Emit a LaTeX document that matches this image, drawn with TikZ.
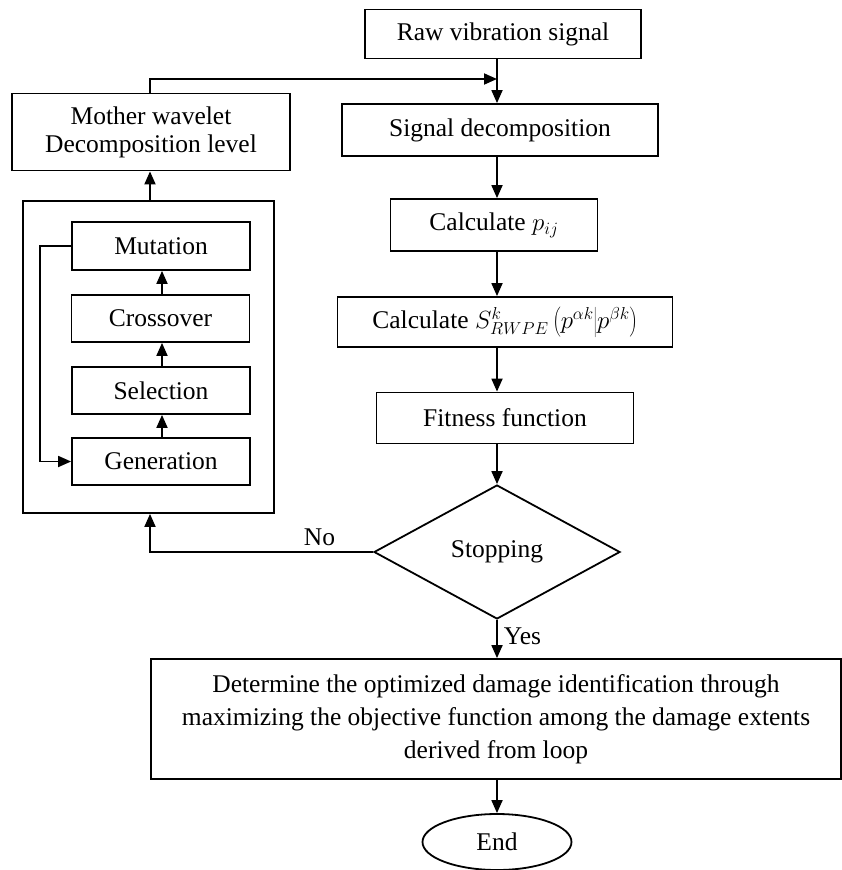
\documentclass[tikz,border=0pt]{standalone}
\usepackage{fontspec}
\setmainfont{Liberation Serif}
\usetikzlibrary{shapes.geometric,arrows.meta}
\tikzset{
  box/.style={draw,line width=1.8pt,inner sep=2pt,align=center,font=\fontsize{25.5}{33}\selectfont},
  arr/.style={line width=1.8pt,-{Triangle[length=13pt,width=11pt]}},
  lbl/.style={font=\fontsize{25.5}{30}\selectfont,inner sep=0pt}
}
\begin{document}
\begin{tikzpicture}[x=1pt,y=-1pt]
\useasboundingbox (0,0) rectangle (842,870);
\coordinate (col) at (497,0);
% main column
\node[box,minimum width=276pt,minimum height=49pt] (raw) at (503,34) {Raw vibration signal};
\node[box,minimum width=316pt,minimum height=52pt] (sigdec) at (500,130) {Signal decomposition};
\node[box,minimum width=207pt,minimum height=52pt] (calcp) at (494,225) {Calculate $p_{ij}$};
\node[box,minimum width=335pt,minimum height=50pt] (calcs) at (505,322) {Calculate $S^{k}_{RWPE}\left(p^{\alpha k}\middle|p^{\beta k}\right)$};
\node[box,minimum width=257pt,minimum height=51pt] (fit) at (505,418) {Fitness function};
\node[box,shape=diamond,inner sep=0pt,minimum width=246pt,minimum height=134pt] (stop) at (497,552) {Stopping};
\node[box,minimum width=690pt,minimum height=120pt] (big) at (496,719) {Determine the optimized damage identification through\\maximizing the objective function among the damage extents\\derived from loop};
\node[box,shape=ellipse,inner sep=0pt,minimum width=149pt,minimum height=56pt] (endn) at (497,842) {End};
% left side
\node[box,minimum width=278pt,minimum height=77pt] (mother) at (151,132) {Mother wavelet\\[-5pt]Decomposition level};
\node[draw,line width=1.8pt,minimum width=251pt,minimum height=312pt] (outer) at (148.5,357) {};
\node[box,minimum width=178pt,minimum height=48pt] (mut) at (161,246) {Mutation};
\node[box,minimum width=178pt,minimum height=47pt] (cross) at (160.5,318.5) {Crossover};
\node[box,minimum width=178pt,minimum height=47pt] (sel) at (161,390.5) {Selection};
\node[box,minimum width=178pt,minimum height=47pt] (gen) at (161,461.5) {Generation};
\coordinate (join) at (497,79);
\coordinate (lcol) at (150,0);
\coordinate (icol) at (162,0);
% connectors
\draw[arr] (raw.south -| col) -- (sigdec.north -| col);
\draw[arr] (mother.north -| lcol) |- (join);
\draw[arr] (sigdec.south -| col) -- (calcp.north -| col);
\draw[arr] (calcp.south -| col) -- (calcs.north -| col);
\draw[arr] (calcs.south -| col) -- (fit.north -| col);
\draw[arr] (fit.south -| col) -- (stop.north);
\draw[arr] (stop.south) -- (big.north -| stop.south) node[lbl,pos=0.42,right=6pt] {Yes};
\draw[arr] (big.south -| endn.north) -- (endn.north);
\draw[arr] (stop.west) -| (outer.south -| lcol) node[lbl,pos=0.12,above=5pt] {No};
\draw[arr] (outer.north -| lcol) -- (mother.south -| lcol);
\draw[arr] (gen.north -| icol) -- (sel.south -| icol);
\draw[arr] (sel.north -| icol) -- (cross.south -| icol);
\draw[arr] (cross.north -| icol) -- (mut.south -| icol);
\draw[arr] (mut.west) -- ++(-31,0) |- (gen.west);
\end{tikzpicture}
\end{document}
